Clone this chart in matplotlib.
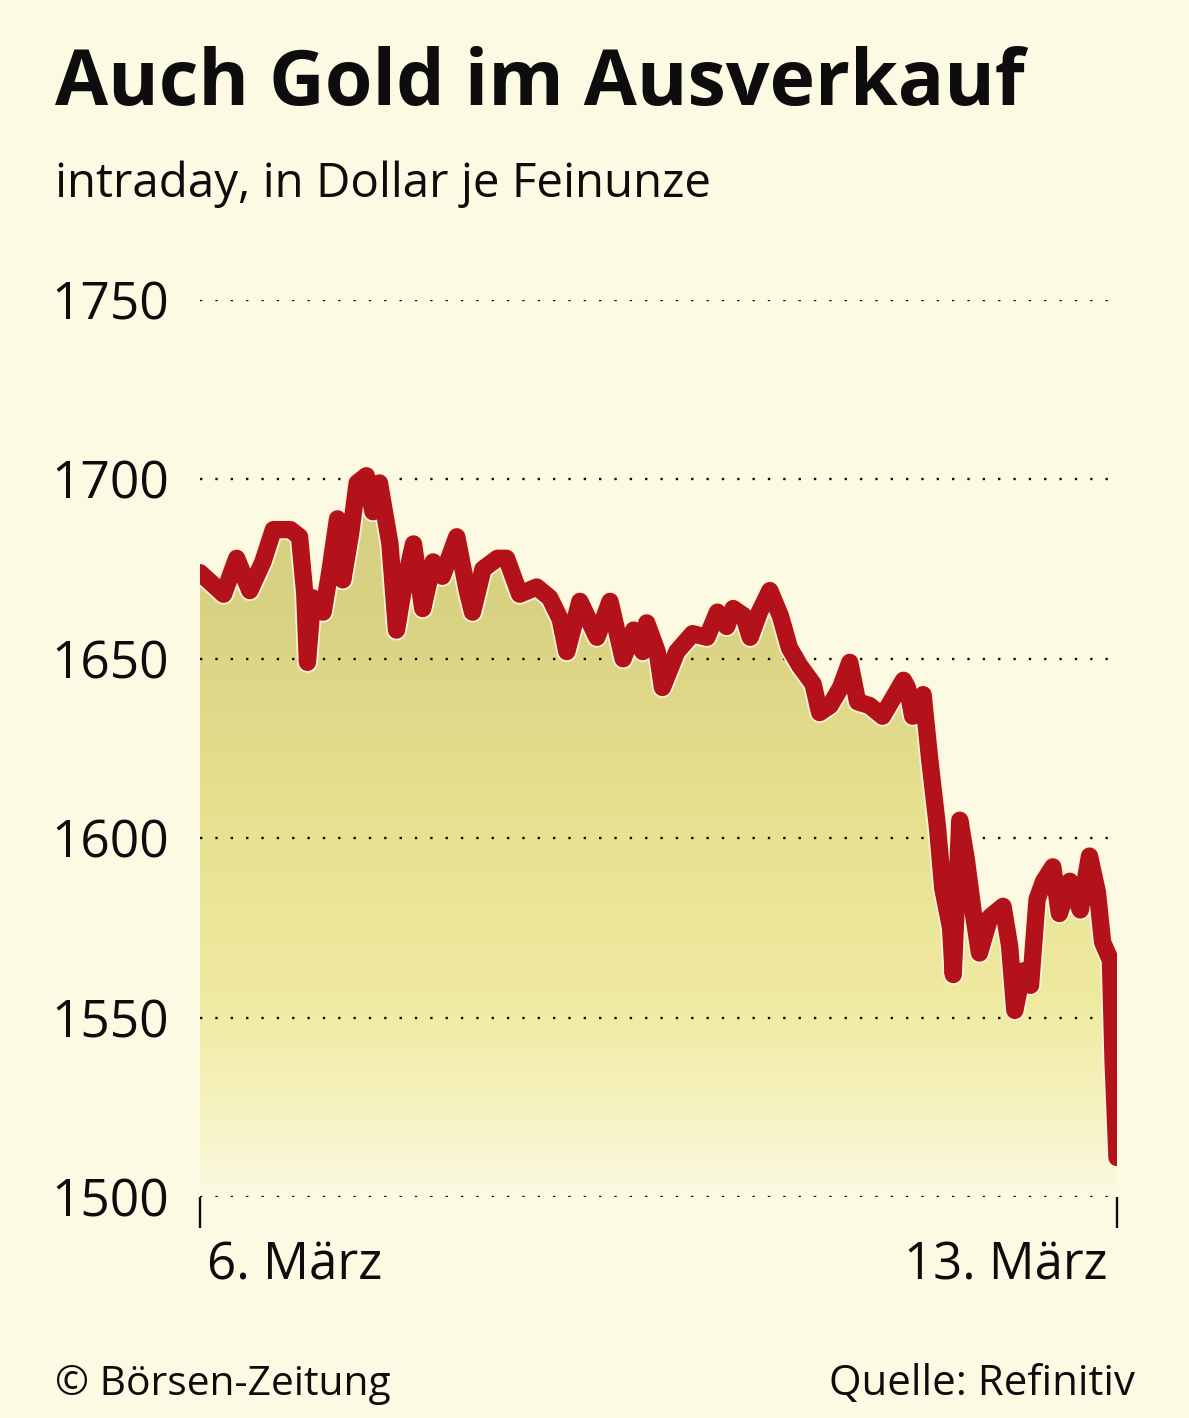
import matplotlib
matplotlib.use("Agg")
import matplotlib.pyplot as plt
import matplotlib.patheffects as pe
from matplotlib.colors import LinearSegmentedColormap
import numpy as np

# Goldpreis intraday, 6. bis 13. März (x in Tagen ab 6. März)
days = [0.00, 0.18, 0.28, 0.38, 0.48, 0.56, 0.69, 0.76, 0.80, 0.82,
        0.86, 0.94, 0.99, 1.05, 1.09, 1.15, 1.20, 1.27, 1.32, 1.37,
        1.45, 1.50, 1.55, 1.63, 1.70, 1.78, 1.85, 1.96, 2.04, 2.08,
        2.16, 2.27, 2.34, 2.44, 2.57, 2.67, 2.75, 2.80, 2.90, 3.03,
        3.13, 3.23, 3.31, 3.38, 3.41, 3.49, 3.53, 3.64, 3.76, 3.87,
        3.95, 4.02, 4.07, 4.15, 4.20, 4.27, 4.35, 4.43, 4.50, 4.58,
        4.68, 4.73, 4.81, 4.89, 4.96, 5.02, 5.11, 5.21, 5.29, 5.37,
        5.40, 5.44, 5.52, 5.57, 5.63, 5.67, 5.73, 5.75, 5.80, 5.85,
        5.90, 5.95, 6.03, 6.13, 6.18, 6.22, 6.28, 6.34, 6.39, 6.44,
        6.51, 6.56, 6.64, 6.72, 6.79, 6.85, 6.89, 6.95, 6.97, 7.00]
prices = [1674, 1668, 1678, 1669, 1677, 1686, 1686, 1684, 1668, 1649,
          1667, 1663, 1674, 1689, 1672, 1685, 1699, 1701, 1691, 1699,
          1682, 1658, 1669, 1682, 1664, 1677, 1673, 1684, 1669, 1663,
          1675, 1678, 1678, 1668, 1670, 1667, 1661, 1652, 1666, 1656,
          1666, 1650, 1658, 1652, 1660, 1652, 1642, 1652, 1657, 1656,
          1663, 1659, 1664, 1662, 1656, 1663, 1669, 1662, 1653, 1648,
          1643, 1635, 1637, 1642, 1649, 1638, 1637, 1634, 1639, 1644,
          1642, 1634, 1640, 1622, 1603, 1586, 1575, 1562, 1605, 1594,
          1580, 1568, 1578, 1581, 1570, 1552, 1563, 1559, 1583, 1588,
          1592, 1579, 1588, 1580, 1595, 1585, 1571, 1566, 1538, 1511]

y_ticks = [1500, 1550, 1600, 1650, 1700, 1750]
x_ticks = [0, 7]
x_labels = ["6. März", "13. März"]

BG = "#fcfae2"
RED = "#b3121a"
INK = "#0d0d0d"
FONT = ["Open Sans", "DejaVu Sans"]

plt.rcParams["font.family"] = FONT

fig = plt.figure(figsize=(11.89, 14.18), dpi=100, facecolor=BG)
ax = fig.add_axes([200 / 1189, 221 / 1418, 917 / 1189, 897 / 1418])
ax.set_facecolor(BG)
ax.set_xlim(0, 7)
ax.set_ylim(1500, 1750)

# Verlaufsfläche unter der Kurve
cmap = LinearSegmentedColormap.from_list(
    "gold", [(0.0, BG), (0.08, "#f6f3c4"), (0.22, "#efeaa0"),
             (0.45, "#e5df8e"), (0.65, "#dad283"), (1.0, "#d0c87e")])
grad = np.linspace(0, 1, 256).reshape(-1, 1)
img = ax.imshow(grad, extent=[0, 7, 1500, 1750], origin="lower",
                aspect="auto", cmap=cmap, zorder=1)
poly = ax.fill_between(days, prices, 1500, color="none", lw=0)
img.set_clip_path(poly.get_paths()[0], transform=ax.transData)

# gepunktete Gitterlinien
for v in y_ticks:
    ax.axhline(v, color=INK, lw=1.7, ls=(0, (1, 5.5)), zorder=2)

ax.plot(days, prices, color=RED, lw=12.5, solid_joinstyle="round",
        solid_capstyle="round", zorder=4,
        path_effects=[pe.Stroke(linewidth=15, foreground="#fbf6d8"), pe.Normal()])

for s in ax.spines.values():
    s.set_visible(False)

ax.set_yticks(y_ticks)
ax.set_yticklabels([str(v) for v in y_ticks], fontsize=37, color=INK)
ax.tick_params(axis="y", length=0, pad=22)
ax.set_xticks(x_ticks)
ax.set_xticklabels([])
ax.tick_params(axis="x", length=22, width=1.7, color=INK, direction="out")

xt = ax.get_xaxis_transform()
lab_l = ax.text(0.05, -0.0925, x_labels[0], transform=xt, ha="left",
                va="baseline", fontsize=38, color=INK)
lab_r = ax.text(6.93, -0.0925, x_labels[1], transform=xt, ha="right",
                va="baseline", fontsize=38, color=INK)

title = fig.text(55 / 1189, 1 - 105 / 1418, "Auch Gold im Ausverkauf",
                 fontsize=56, fontweight="bold", color=INK, va="baseline")
sub = fig.text(55 / 1189, 1 - 197 / 1418, "intraday, in Dollar je Feinunze",
               fontsize=34, color=INK, va="baseline")
src_l = fig.text(55 / 1189, 1 - 1395 / 1418, "© Börsen-Zeitung",
                 fontsize=30, color=INK, va="baseline")
src_r = fig.text(1135 / 1189, 1 - 1395 / 1418, "Quelle: Refinitiv",
                 fontsize=30, color=INK, va="baseline", ha="right")

# Schriftgrößen an die Breiten der Vorlage anpassen
renderer = fig.canvas.get_renderer()
for t, target in [(title, 970), (sub, 657), (lab_l, 175), (lab_r, 203),
                  (src_l, 335), (src_r, 305)]:
    w = t.get_window_extent(renderer).width
    t.set_fontsize(t.get_fontsize() * target / w)

fig.savefig("out.png", dpi=100, facecolor=BG)
